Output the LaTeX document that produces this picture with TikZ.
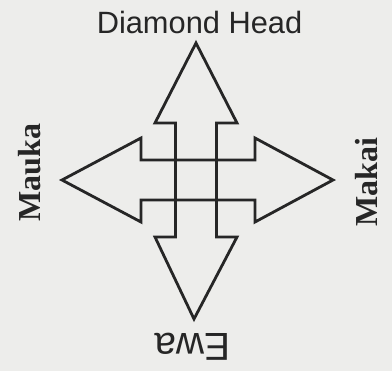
\documentclass[tikz,border=0pt]{standalone}
\usepackage{fontspec}
\setmainfont{Liberation Serif}
\newfontfamily\arialfont{Liberation Sans}
\usepackage{tikz}
\usetikzlibrary{calc,positioning}
\definecolor{paperGray}{HTML}{EDEDEB}
\definecolor{inkDark}{HTML}{262626}

\begin{document}
\begin{tikzpicture}[
  x=0.5pt, y=-0.5pt,
  arm/.style={draw=inkDark, line width=1.4pt, line join=miter},
  dir/.style={text=inkDark, inner sep=0pt, anchor=base, font=\arialfont\fontsize{15.4pt}{17pt}\selectfont},
  side/.style={text=inkDark, inner sep=0pt, anchor=base, font=\fontsize{16pt}{18pt}\selectfont\bfseries}
]
\fill[paperGray] (0,0) rectangle (392,371);
\useasboundingbox (0,0) rectangle (392,371);
\coordinate (c) at (196,180);

% north-south arrow
\draw[arm, shift={(c)}] (-20.5,-57) -- (-41,-57) -- (0,-137) -- (41,-57) -- (20.5,-57)
  -- (20.5,57) -- (41,57) -- (-2,139) -- (-41,57) -- (-20.5,57) -- cycle;
% east-west arrow
\draw[arm, shift={(c)}] (-55,-20) -- (-55,-42) -- (-134,0) -- (-55,42) -- (-55,20)
  -- (59,20) -- (59,42) -- (137,0) -- (59,-42) -- (59,-20) -- cycle;

\node[dir] (dh) at (199.5,33) {Diamond Head};
\node[dir, rotate=180, font=\arialfont\fontsize{19.5pt}{22pt}\selectfont] (ewa) at (192.5,333) {Ewa};
\node[side, rotate=90] (mauka) at (40,172.5) {Mauka};
\node[side, rotate=90] (makai) at (377,182.5) {Makai};
\end{tikzpicture}
\end{document}
